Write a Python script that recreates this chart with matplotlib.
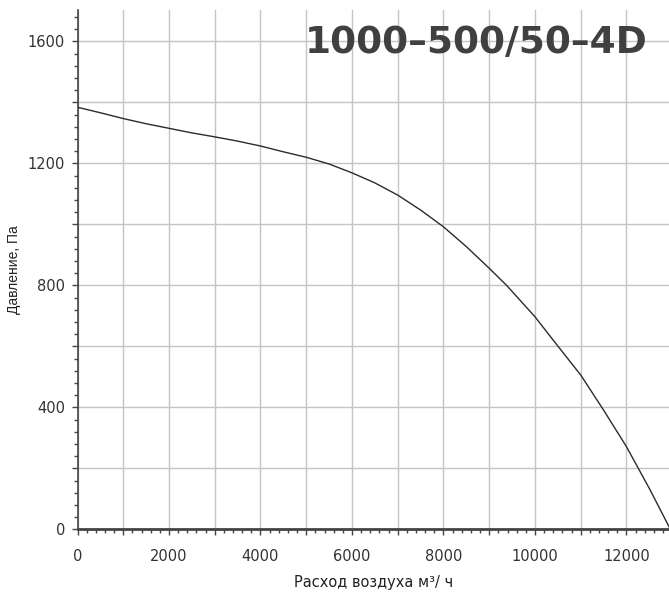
import numpy as np
import matplotlib
matplotlib.use('Agg')
import matplotlib.pyplot as plt
from matplotlib.ticker import MultipleLocator

# fan curve: air flow (m3/h) vs pressure (Pa)
flow = [0, 500, 1000, 1500, 2000, 2500, 3000, 3500, 4000, 4500, 5000,
        5500, 6000, 6500, 7000, 7500, 8000, 8500, 9000, 9380, 10000,
        10500, 11000, 11500, 12000, 12500, 12960]
pressure = [1384, 1366, 1347, 1330, 1315, 1300, 1287, 1273, 1257, 1238, 1220,
            1198, 1169, 1136, 1096, 1047, 992, 927, 856, 800, 697,
            601, 506, 391, 271, 134, 0]

x_ticks = [0, 2000, 4000, 6000, 8000, 10000, 12000]
y_ticks = [0, 400, 800, 1200, 1600]
model = '1000–500/50–4D'

fig = plt.figure(figsize=(6.69, 5.96), dpi=100)
ax = fig.add_axes([77.5 / 669, 66.7 / 596, 591.5 / 669, 519.3 / 596])

ax.set_xlim(0, 12930)
ax.set_ylim(0, 1703)

# grid: every 1000 on x, every 200 on y
grid_x = np.arange(0, 13000, 1000)
grid_y = np.arange(0, 1701, 200)
ax.set_xticks(grid_x)
ax.set_yticks(grid_y)
ax.xaxis.set_minor_locator(MultipleLocator(200))
ax.yaxis.set_minor_locator(MultipleLocator(40))
ax.grid(True, which='major', color='#c4c4c4', linewidth=1.0)
ax.set_axisbelow(True)

ax.set_xticklabels([str(v) if v in x_ticks else '' for v in grid_x])
ax.set_yticklabels([str(v) if v in y_ticks else '' for v in grid_y])

ax.plot(flow, pressure, color='#2b2b2b', linewidth=1.0, zorder=5)

for s in ['top', 'right']:
    ax.spines[s].set_visible(False)
ax.spines['left'].set_color('#444444')
ax.spines['left'].set_linewidth(1.2)
ax.spines['bottom'].set_color('#444444')
ax.spines['bottom'].set_linewidth(2.0)

ax.tick_params(axis='both', which='both', direction='out', color='#444444',
               labelcolor='#333333', labelsize=10.5)
ax.tick_params(axis='y', which='major', length=4, width=1, pad=5)
ax.tick_params(axis='y', which='minor', length=3, width=1)
ax.tick_params(axis='x', which='major', length=4, width=1, pad=10)
ax.tick_params(axis='x', which='minor', length=3, width=1)

ax.set_ylabel('Давление, Па', fontsize=10, color='#222222',
              family=['Liberation Sans', 'DejaVu Sans'], labelpad=5)
ax.set_xlabel('Расход воздуха м³/ ч', fontsize=10.5, color='#222222', labelpad=8)

ax.text(0.9645, 0.937, model, transform=ax.transAxes, ha='right', va='center',
        fontsize=27, fontweight='bold', color='#404040', zorder=6)

fig.savefig('out.png', dpi=100)
